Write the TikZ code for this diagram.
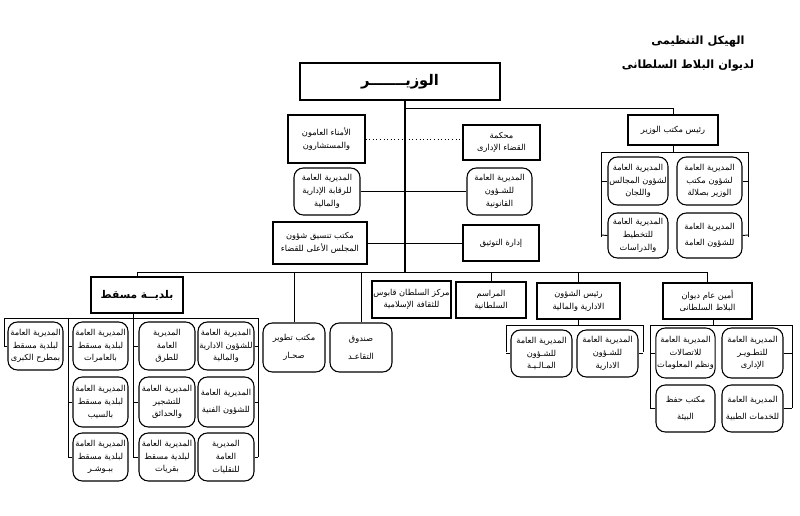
\documentclass[tikz,border=0pt]{standalone}
\usepackage{fontspec}
\TeXXeTstate=1
\newfontfamily\arabicfont[Script=Arabic]{DejaVu Sans}
\newcommand\AR[1]{\beginR #1\endR}
\newcommand\bx[7]{\node[#1,minimum width={(#5-#3)*0.75pt},minimum height={(#6-#4)*0.75pt}] (#2) at ({(#3+#5)/2},{(#4+#6)/2}) {#7};}
\tikzset{
 base/.style={draw,line width=0.8pt,inner sep=1pt,align=center,font=\arabicfont\fontsize{6.2}{9.5}\selectfont},
 sq/.style={base},
 rb/.style={base,rounded corners=7pt},
 ln/.style={line width=0.7pt},
}
\begin{document}
\begin{tikzpicture}[x=0.75pt,y=-0.75pt]
\useasboundingbox (0,0) rectangle (800,516);
\node[font=\arabicfont\bfseries\fontsize{8.5}{11}\selectfont] (t1) at (698,42) {\AR{الهيكل التنظيمى}};
\node[font=\arabicfont\bfseries\fontsize{8.5}{11}\selectfont] (t2) at (688,66) {\AR{لديوان البلاط السلطانى}};
\bx{sq,line width=2pt,font=\arabicfont\bfseries\fontsize{11}{13}\selectfont}{wz}{300}{63}{500}{100}{\AR{الوزيـــــــر}}
% top right
\bx{sq}{rm}{628}{115}{718}{145}{\AR{رئيس مكتب الوزير}}
\bx{rb}{r1}{677}{157}{742}{205}{\AR{المديرية العامة}\\\AR{لشؤون مكتب}\\\AR{الوزير بصلالة}}
\bx{rb}{r2}{608}{157}{668}{205}{\AR{المديرية العامة}\\\AR{لشؤون المجالس}\\\AR{واللجان}}
\bx{rb}{r3}{608}{213}{668}{258}{\AR{المديرية العامة}\\\AR{للتخطيط}\\\AR{والدراسات}}
\bx{rb}{r4}{677}{213}{742}{258}{\AR{المديرية العامة}\\[3pt]\AR{للشؤون العامة}}
% middle
\bx{sq}{mh}{463}{125}{540}{160}{\AR{محكمة}\\\AR{القضاء الإدارى}}
\bx{sq}{am}{288}{115}{365}{163}{\AR{الأمناء العامون}\\\AR{والمستشارون}}
\bx{rb}{qn}{467}{168}{532}{215}{\AR{المديرية العامة}\\\AR{للشـؤون}\\\AR{القانونية}}
\bx{rb}{rq}{294}{168}{360}{215}{\AR{المديرية العامة}\\\AR{للرقابة الإدارية}\\\AR{والمالية}}
\bx{sq}{tw}{463}{225}{539}{261}{\AR{إدارة التوثيق}}
\bx{sq}{mk}{273}{222}{367}{264}{\AR{مكتب تنسيق شؤون}\\\AR{المجلس الأعلى للقضاء}}
% second row
\bx{sq,font=\arabicfont\bfseries\fontsize{8}{10}\selectfont}{bm}{91}{277}{183}{313}{\AR{بلديــة مسقط}}
\bx{rb}{sh}{263}{323}{325}{372}{\AR{مكتب تطوير}\\[4pt]\AR{صحـار}}
\bx{rb}{sn}{330}{323}{392}{372}{\AR{صندوق}\\[4pt]\AR{التقاعـد}}
\bx{sq}{qb}{372}{281}{451}{318}{\AR{مركز السلطان قابوس}\\\AR{للثقافة الإسلامية}}
\bx{sq}{mr}{456}{282}{526}{318}{\AR{المراسم}\\\AR{السلطانية}}
\bx{sq}{ra}{537}{283}{620}{319}{\AR{رئيس الشؤون}\\\AR{الادارية والمالية}}
\bx{sq}{am2}{663}{283}{752}{319}{\AR{أمين عام ديوان}\\\AR{البلاط السلطانى}}
\bx{rb}{s1}{511}{330}{572}{377}{\AR{المديرية العامة}\\\AR{للشـؤون}\\\AR{المـالـيـة}}
\bx{rb}{s2}{577}{330}{638}{377}{\AR{المديرية العامة}\\\AR{للشـؤون}\\\AR{الادارية}}
\bx{rb}{a1}{656}{328}{715}{378}{\AR{المديرية العامة}\\\AR{للاتصالات}\\\AR{ونظم المعلومات}}
\bx{rb}{a2}{722}{328}{783}{378}{\AR{المديرية العامة}\\\AR{للتطـويـر}\\\AR{الإدارى}}
\bx{rb}{a3}{656}{385}{715}{432}{\AR{مكتب حفظ}\\[3pt]\AR{البيئة}}
\bx{rb}{a4}{722}{385}{783}{432}{\AR{المديرية العامة}\\[3pt]\AR{للخدمات الطبية}}
% muscat columns
\bx{rb}{cA}{8}{322}{63}{370}{\AR{المديرية العامة}\\\AR{لبلدية مسقط}\\\AR{بمطرح الكبرى}}
\bx{rb}{cB1}{73}{322}{128}{370}{\AR{المديرية العامة}\\\AR{لبلدية مسقط}\\\AR{بالعامرات}}
\bx{rb}{cB2}{73}{377}{128}{427}{\AR{المديرية العامة}\\\AR{لبلدية مسقط}\\\AR{بالسيب}}
\bx{rb}{cB3}{73}{433}{128}{481}{\AR{المديرية العامة}\\\AR{لبلدية مسقط}\\\AR{ببـوشـر}}
\bx{rb}{cC1}{139}{322}{195}{370}{\AR{المديرية}\\\AR{العامة}\\\AR{للطرق}}
\bx{rb}{cC2}{139}{377}{195}{427}{\AR{المديرية العامة}\\\AR{للتشجير}\\\AR{والحدائق}}
\bx{rb}{cC3}{139}{433}{195}{481}{\AR{المديرية العامة}\\\AR{لبلدية مسقط}\\\AR{بقريات}}
\bx{rb}{cD1}{198}{322}{254}{370}{\AR{المديرية العامة}\\\AR{للشؤون الادارية}\\\AR{والمالية}}
\bx{rb}{cD2}{198}{377}{254}{427}{\AR{المديرية العامة}\\[3pt]\AR{للشؤون الفنية}}
\bx{rb}{cD3}{198}{433}{254}{481}{\AR{المديرية}\\\AR{العامة}\\\AR{للنقليات}}
% connectors
\coordinate (sp) at (405,100);
\coordinate (sb) at (405,272);
\draw[ln,line width=1.2pt] (sp) -- (sb);
\draw[ln] (405,108) -| (rm.north);
\draw[ln,dotted] (am.east) -- (am.east -| mh.west);
\draw[ln] (rq.east) -- (qn.west);
\draw[ln] (mk.east) -- (tw.west);
\draw[ln] (bm.north -| 137,0) |- (am2.north |- 0,272) -- (am2.north);
\draw[ln] (sh.north |- 0,272) -- (sh.north);
\draw[ln] (sn.north |- 0,272) -- (sn.north);
\draw[ln] (mr.north |- 0,272) -- (mr.north);
\draw[ln] (ra.north |- 0,272) -- (ra.north);
% top right bracket
\draw[ln] (rm.south) -- (rm.south |- 0,152);
\draw[ln] (601,237) -- (601,152) -- (748,152) -- (748,237);
\draw[ln] (601,181) -- (r2.west); \draw[ln] (601,235) -- (r3.west);
\draw[ln] (748,181) -- (r1.east); \draw[ln] (748,235) -- (r4.east);
% ra bracket
\draw[ln] (ra.south) -- (ra.south |- 0,325);
\draw[ln] (506,352) -- (506,325) -- (643,325) -- (643,352);
\draw[ln] (506,353.5) -- (s1.west); \draw[ln] (643,353.5) -- (s2.east);
% amin bracket
\draw[ln] (am2.south -| 713,0) -- (713,325);
\draw[ln] (650,408.5) -- (650,325) -- (792,325) -- (792,408.5);
\draw[ln] (650,353) -- (a1.west); \draw[ln] (650,408.5) -- (a3.west);
\draw[ln] (792,353) -- (a2.east); \draw[ln] (792,408.5) -- (a4.east);
% muscat bracket
\draw[ln] (bm.south -| 133,0) -- (133,318);
\draw[ln] (4,346) -- (4,318) -- (258,318) -- (258,457);
\draw[ln] (68,318) -- (68,457); \draw[ln] (133,318) -- (133,457);
\draw[ln] (4,346) -- (cA.west);
\draw[ln] (68,346) -- (cB1.west); \draw[ln] (68,402) -- (cB2.west); \draw[ln] (68,457) -- (cB3.west);
\draw[ln] (133,346) -- (cC1.west); \draw[ln] (133,402) -- (cC2.west); \draw[ln] (133,457) -- (cC3.west);
\draw[ln] (258,346) -- (cD1.east); \draw[ln] (258,402) -- (cD2.east); \draw[ln] (258,457) -- (cD3.east);
\end{tikzpicture}
\end{document}
